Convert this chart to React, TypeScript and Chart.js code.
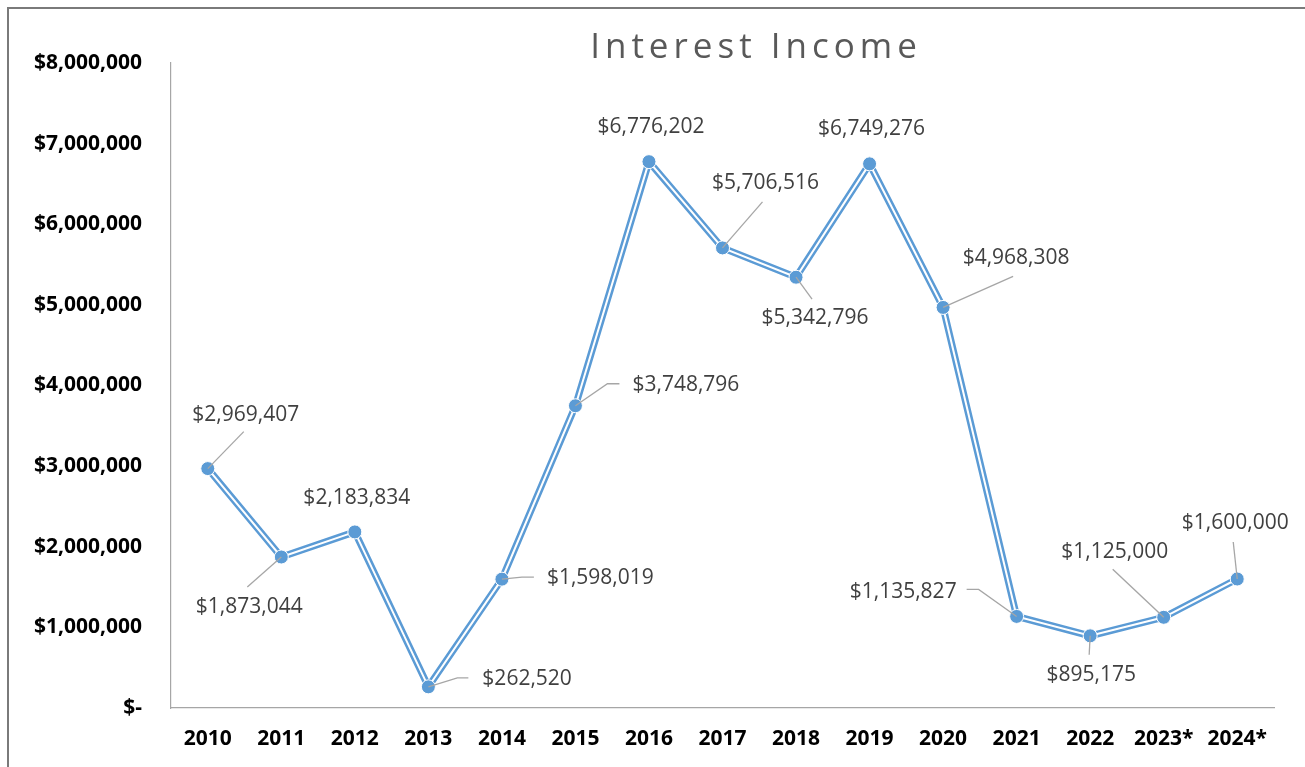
import React, { useEffect, useRef } from "react";
import { Chart, registerables } from "chart.js";

Chart.register(...registerables);

const TITLE = "Interest Income";
const YEARS = ["2010", "2011", "2012", "2013", "2014", "2015", "2016", "2017", "2018", "2019", "2020", "2021", "2022", "2023*", "2024*"];
const INCOME = [2969407, 1873044, 2183834, 262520, 1598019, 3748796, 6776202, 5706516, 5342796, 6749276, 4968308, 1135827, 895175, 1125000, 1600000];
const Y_MIN = 0;
const Y_MAX = 8000000;
const Y_STEP = 1000000;

// label placement relative to each point: [dx, dy, align, leader points...]
type Lay = { dx: number; dy: number; align: CanvasTextAlign; leader: number[][] };
const LABEL_LAYOUT: Lay[] = [
  { dx: 38, dy: -54, align: "center", leader: [[36, -37]] },
  { dx: -32, dy: 50, align: "center", leader: [[-34, 30]] },
  { dx: 2, dy: -34, align: "center", leader: [] },
  { dx: 54, dy: -8, align: "left", leader: [[29, -9], [40, -9]] },
  { dx: 45, dy: -1, align: "left", leader: [[20, -2], [32, -2]] },
  { dx: 57, dy: -21, align: "left", leader: [[32, -22], [44, -22]] },
  { dx: 2, dy: -35, align: "center", leader: [] },
  { dx: 43, dy: -65, align: "center", leader: [[40, -46]] },
  { dx: 19, dy: 41, align: "center", leader: [[16, 22]] },
  { dx: 2, dy: -35, align: "center", leader: [] },
  { dx: 73, dy: -49, align: "center", leader: [[70, -31]] },
  { dx: -60, dy: -24, align: "right", leader: [[-38, -27], [-50, -27]] },
  { dx: 1, dy: 39, align: "center", leader: [[-1, 19]] },
  { dx: -49, dy: -65, align: "center", leader: [[-51, -48]] },
  { dx: -2, dy: -56, align: "center", leader: [[-4, -37]] },
];

const BLUE = "#5B9BD5";
const FONT = '"Open Sans", "Liberation Sans", sans-serif';

const money = (v: number) => (v === 0 ? "$-" : "$" + v.toLocaleString("en-US"));

const decorPlugin = {
  id: "decor",
  beforeDraw(chart: any) {
    const ctx = chart.ctx;
    ctx.save();
    ctx.fillStyle = "#ffffff";
    ctx.fillRect(0, 0, chart.width, chart.height);
    ctx.strokeStyle = "#7a7a7a";
    ctx.lineWidth = 2;
    ctx.beginPath();
    ctx.moveTo(8, chart.height + 2);
    ctx.lineTo(8, 8);
    ctx.lineTo(chart.width + 2, 8);
    ctx.stroke();
    // title
    ctx.font = `35px ${FONT}`;
    (ctx as any).letterSpacing = "5px";
    ctx.fillStyle = "#595959";
    ctx.textAlign = "center";
    ctx.textBaseline = "alphabetic";
    ctx.fillText(TITLE, 756, 58);
    ctx.restore();
  },
  afterDatasetsDraw(chart: any) {
    const ctx = chart.ctx;
    const meta = chart.getDatasetMeta(0);
    ctx.save();
    ctx.strokeStyle = "#a6a6a6";
    ctx.lineWidth = 1.3;
    meta.data.forEach((pt: any, i: number) => {
      const lay = LABEL_LAYOUT[i];
      if (lay && lay.leader.length) {
        ctx.beginPath();
        ctx.moveTo(pt.x, pt.y);
        lay.leader.forEach((p) => ctx.lineTo(pt.x + p[0], pt.y + p[1]));
        ctx.stroke();
      }
    });
    ctx.restore();
  },
  afterDraw(chart: any) {
    const ctx = chart.ctx;
    const meta = chart.getDatasetMeta(0);
    ctx.save();
    ctx.font = `21px ${FONT}`;
    ctx.fillStyle = "#404040";
    ctx.textBaseline = "middle";
    meta.data.forEach((pt: any, i: number) => {
      const lay = LABEL_LAYOUT[i];
      if (!lay) return;
      ctx.textAlign = lay.align;
      ctx.fillText(money(INCOME[i]), pt.x + lay.dx, pt.y + lay.dy);
    });
    ctx.restore();
  },
};

export default function App() {
  const ref = useRef<HTMLCanvasElement>(null);
  useEffect(() => {
    if (!ref.current) return;
    const chart = new Chart(ref.current, {
      type: "line",
      data: {
        labels: YEARS,
        datasets: [
          {
            label: "outer",
            data: INCOME,
            borderColor: BLUE,
            borderWidth: 7,
            pointRadius: 0,
            tension: 0,
            order: 3,
          },
          {
            label: "inner",
            data: INCOME,
            borderColor: "#ffffff",
            borderWidth: 2,
            pointRadius: 0,
            tension: 0,
            order: 2,
          },
          {
            label: "points",
            data: INCOME,
            showLine: false,
            pointRadius: 7,
            pointBackgroundColor: BLUE,
            pointBorderColor: "#ffffff",
            pointBorderWidth: 1,
            order: 1,
          },
        ],
      },
      options: {
        animation: false,
        responsive: false,
        events: [],
        layout: { padding: { left: 0, right: 31, top: 63, bottom: 0 } },
        plugins: { legend: { display: false }, tooltip: { enabled: false }, title: { display: false } },
        scales: {
          x: {
            type: "category",
            offset: true,
            grid: { drawOnChartArea: false, drawTicks: false, tickLength: 0, color: "rgba(0,0,0,0)" },
            border: { display: true, color: "#a6a6a6", width: 1.2 },
            ticks: { color: "#000000", font: { family: FONT, size: 21, weight: "bold" }, padding: 18, maxRotation: 0, autoSkip: false },
            afterFit(scale: any) {
              scale.height = 59;
            },
          },
          y: {
            min: Y_MIN,
            max: Y_MAX,
            grid: { drawOnChartArea: false, drawTicks: false, tickLength: 0, color: "rgba(0,0,0,0)" },
            border: { display: true, color: "#a6a6a6", width: 1.2 },
            ticks: {
              stepSize: Y_STEP,
              color: "#000000",
              font: { family: FONT, size: 21, weight: "bold" },
              padding: 29,
              callback: (v: any) => money(Number(v)),
            },
            afterFit(scale: any) {
              scale.width = 171;
            },
          },
        },
      },
      plugins: [decorPlugin],
    });
    return () => chart.destroy();
  }, []);
  return (
    <div style={{ position: "fixed", left: 0, top: 0, width: 1305, height: 767, background: "#fff", overflow: "hidden" }}>
      <canvas ref={ref} width={1305} height={767} style={{ display: "block" }} />
    </div>
  );
}
